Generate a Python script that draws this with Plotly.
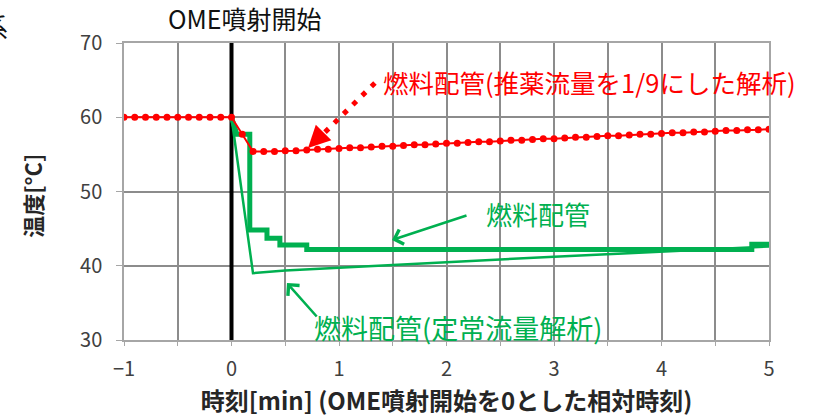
import plotly.graph_objects as go

# ---- data (time in minutes relative to the start of OME injection, temperature in degC) ----
# fuel piping, analysis with propellant flow reduced to 1/9 (sampled every 0.1 min)
red_t = [-1.0, -0.9, -0.8, -0.7, -0.6, -0.5, -0.4, -0.3, -0.2, -0.1, 0.0,
         0.1, 0.2, 0.3, 0.4, 0.5, 0.6, 0.7, 0.8, 0.9, 1.0,
         1.1, 1.2, 1.3, 1.4, 1.5, 1.6, 1.7, 1.8, 1.9, 2.0,
         2.1, 2.2, 2.3, 2.4, 2.5, 2.6, 2.7, 2.8, 2.9, 3.0,
         3.1, 3.2, 3.3, 3.4, 3.5, 3.6, 3.7, 3.8, 3.9, 4.0,
         4.1, 4.2, 4.3, 4.4, 4.5, 4.6, 4.7, 4.8, 4.9, 5.0]
red_temp = [60.0, 60.0, 60.0, 60.0, 60.0, 60.0, 60.0, 60.0, 60.0, 60.0, 60.0,
            57.7, 55.4, 55.4, 55.4, 55.5, 55.5, 55.6, 55.7, 55.7, 55.8,
            55.9, 55.9, 56.0, 56.1, 56.1, 56.2, 56.3, 56.3, 56.4, 56.5,
            56.5, 56.6, 56.7, 56.7, 56.8, 56.9, 56.9, 57.0, 57.1, 57.1,
            57.2, 57.3, 57.3, 57.4, 57.5, 57.5, 57.6, 57.7, 57.7, 57.8,
            57.9, 57.9, 58.0, 58.0, 58.1, 58.2, 58.2, 58.3, 58.3, 58.4]

# fuel piping (measured, stepped)
fuel_t = [0.0, 0.05, 0.17, 0.17, 0.33, 0.33, 0.45, 0.45, 0.70, 0.70, 4.84, 4.84, 5.0]
fuel_temp = [60.0, 57.7, 57.7, 44.8, 44.8, 43.7, 43.7, 42.8, 42.8, 42.2, 42.2, 42.9, 42.9]

# fuel piping, steady-flow analysis
steady_t = [0.0, 0.2, 0.5, 1.0, 1.5, 2.0, 2.5, 3.0, 3.5, 4.0, 4.5, 5.0]
steady_temp = [60.0, 39.0, 39.35, 39.75, 40.15, 40.5, 40.85, 41.2, 41.55, 41.9, 42.25, 42.6]

x_ticks = [-1, 0, 1, 2, 3, 4, 5]
y_ticks = [30, 40, 50, 60, 70]

RED = "#FF0000"
GREEN = "#00B050"
FONT = "Noto Sans CJK JP"

fig = go.Figure()

fig.add_trace(go.Scatter(x=steady_t, y=steady_temp, mode="lines",
                         line=dict(color=GREEN, width=2.5), showlegend=False))
fig.add_trace(go.Scatter(x=fuel_t, y=fuel_temp, mode="lines",
                         line=dict(color=GREEN, width=5), showlegend=False))
fig.add_trace(go.Scatter(x=red_t, y=red_temp, mode="lines+markers",
                         line=dict(color=RED, width=2),
                         marker=dict(color=RED, size=7), showlegend=False))

# OME injection start marker
fig.add_shape(type="line", x0=0, x1=0, y0=30, y1=70, xref="x", yref="y",
              line=dict(color="black", width=4), layer="between")

# dotted leader for the red label
fig.add_shape(type="line", x0=0.87, y0=58.0, x1=1.353, y1=64.88, xref="x", yref="y",
              line=dict(color=RED, width=5, dash="5px,8px"), layer="above")

annotations = [
    # red arrowhead
    dict(x=0.712, y=55.86, xref="x", yref="y", ax=16, ay=-16, text="",
         showarrow=True, arrowhead=2, arrowsize=1.1, arrowwidth=4, arrowcolor=RED),
    dict(x=1.391, y=64.75, xref="x", yref="y", text="燃料配管(推薬流量を1/9にした解析)",
         showarrow=False, xanchor="left", yanchor="middle",
         font=dict(family=FONT, size=25.5, color=RED)),
    # green labels with arrows
    dict(x=1.493, y=43.47, xref="x", yref="y", ax=2.2, ay=46.84, axref="x", ayref="y",
         text="", showarrow=True, arrowhead=4, arrowsize=1.2, arrowwidth=2.5, arrowcolor=GREEN),
    dict(x=2.35, y=47.1, xref="x", yref="y", text="燃料配管",
         showarrow=False, xanchor="left", yanchor="middle",
         font=dict(family=FONT, size=26, color=GREEN)),
    dict(x=0.516, y=37.68, xref="x", yref="y", ax=0.805, ay=32.96, axref="x", ayref="y",
         text="", showarrow=True, arrowhead=4, arrowsize=1.2, arrowwidth=2.5, arrowcolor=GREEN),
    dict(x=0.75, y=31.62, xref="x", yref="y", text="燃料配管(定常流量解析)",
         showarrow=False, xanchor="left", yanchor="middle",
         font=dict(family=FONT, size=27, color=GREEN)),
    # heading over the injection-start line
    dict(x=0.13, y=1.084, xref="x", yref="paper", text="OME噴射開始",
         showarrow=False, xanchor="center", yanchor="middle",
         font=dict(family=FONT, size=25, color="#111111")),
    # clipped character at the page edge
    dict(x=-0.1767, y=1.06, xref="paper", yref="paper", text="系",
         showarrow=False, xanchor="right", yanchor="middle",
         font=dict(family=FONT, size=26, color="#111111")),
    # y-axis title
    dict(x=-0.143, y=0.485, xref="paper", yref="paper", text="<b>温度[°C]</b>",
         textangle=-90, showarrow=False, xanchor="center", yanchor="middle",
         font=dict(family=FONT, size=22, color="#262626")),
]

grid_color = "#8c8c8c"

fig.update_layout(
    width=825, height=418,
    margin=dict(l=124, r=56, t=43, b=78),
    paper_bgcolor="white", plot_bgcolor="white",
    annotations=annotations,
    font=dict(family=FONT, color="#404040"),
    xaxis=dict(
        range=[-1, 5], tickvals=x_ticks, ticktext=["−1", "0", "1", "2", "3", "4", "5"],
        showgrid=True, gridcolor=grid_color, gridwidth=1.5,
        minor=dict(dtick=0.5, showgrid=True, gridcolor=grid_color, gridwidth=1.5,
                   ticks="outside", ticklen=4, tickcolor="#a6a6a6"),
        zeroline=False, showline=True, linecolor="#a6a6a6", linewidth=1.5, mirror=True,
        ticks="outside", ticklen=4, tickcolor="#a6a6a6", ticklabelstandoff=6,
        tickfont=dict(family=FONT, size=20, color="#404040"),
        title=dict(text="<b>時刻[min] (OME噴射開始を0とした相対時刻)</b>",
                   font=dict(family=FONT, size=24, color="#262626"), standoff=4),
    ),
    yaxis=dict(
        range=[30, 70], tickvals=y_ticks,
        showgrid=True, gridcolor=grid_color, gridwidth=1.5,
        zeroline=False, showline=True, linecolor="#a6a6a6", linewidth=1.5, mirror=True,
        ticks="outside", ticklen=6, tickcolor="#a6a6a6", ticklabelstandoff=10,
        tickfont=dict(family=FONT, size=20, color="#404040"),
    ),
)

fig.write_html("out.html")
